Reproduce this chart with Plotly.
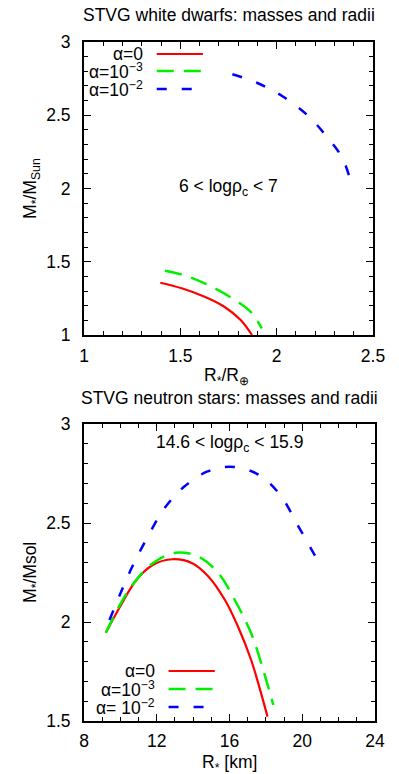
import plotly.graph_objects as go

# ---- white dwarfs (top panel) ----
wd_r_a0 = [1.396, 1.507, 1.626, 1.728, 1.813, 1.872]
wd_m_a0 = [1.357, 1.319, 1.261, 1.193, 1.102, 1.0]
wd_r_a3 = [1.42, 1.515, 1.626, 1.77, 1.864, 1.923]
wd_m_a3 = [1.439, 1.41, 1.353, 1.25, 1.159, 1.046]
wd_r_a2 = [1.77, 1.90, 2.03, 2.16, 2.25, 2.34, 2.39]
wd_m_a2 = [2.78, 2.72, 2.63, 2.50, 2.37, 2.21, 2.02]

# ---- neutron stars (bottom panel) ----
ns_r_a0 = [9.2, 9.98, 10.88, 11.78, 12.86, 13.95, 14.85, 15.75, 16.47, 17.19, 18.09]
ns_m_a0 = [1.946, 2.077, 2.212, 2.288, 2.317, 2.297, 2.229, 2.111, 1.976, 1.808, 1.522]
ns_r_a3 = [9.2, 10.52, 11.78, 13.04, 14.3, 15.39, 16.29, 17.19, 17.91, 18.41]
ns_m_a3 = [1.946, 2.17, 2.297, 2.35, 2.33, 2.246, 2.111, 1.943, 1.741, 1.581]
ns_r_a2 = [9.4, 10.61, 11.51, 12.42, 13.5, 14.76, 16.02, 17.46, 18.72, 19.8, 20.79]
ns_m_a2 = [2.01, 2.271, 2.431, 2.574, 2.683, 2.759, 2.784, 2.751, 2.65, 2.481, 2.32]

labels_top = ["α=0", "α=10<sup>−3</sup>", "α=10<sup>−2</sup>"]
labels_bot = ["α=0", "α=10<sup>−3</sup>", "α= 10<sup>−2</sup>"]
colors = ["#ff0000", "#00f000", "#0000ff"]
dashes = ["solid", "17px,10px", "10px,15px"]
widths = [2.2, 2.5, 2.5]

FONT = "Liberation Sans, Arial, sans-serif"
FS = 17.5

fig = go.Figure()
top = [(wd_r_a0, wd_m_a0), (wd_r_a3, wd_m_a3), (wd_r_a2, wd_m_a2)]
bot = [(ns_r_a0, ns_m_a0), (ns_r_a3, ns_m_a3), (ns_r_a2, ns_m_a2)]
for i, (x, y) in enumerate(top):
    fig.add_trace(go.Scatter(x=x, y=y, mode="lines", xaxis="x", yaxis="y",
                             line=dict(color=colors[i], dash=dashes[i], width=widths[i], shape="spline", smoothing=1.0),
                             showlegend=False))
for i, (x, y) in enumerate(bot):
    fig.add_trace(go.Scatter(x=x, y=y, mode="lines", xaxis="x2", yaxis="y2",
                             line=dict(color=colors[i], dash=dashes[i], width=widths[i], shape="spline", smoothing=1.0),
                             showlegend=False))

def ax(rng, dtick, mdtick, dom, anchor, standoff):
    return dict(range=rng, dtick=dtick, tick0=rng[0], domain=dom, anchor=anchor,
                showline=True, linecolor="black", linewidth=2, mirror="allticks",
                ticks="inside", ticklen=7, tickwidth=1, tickcolor="black",
                minor=dict(ticks="inside", dtick=mdtick, ticklen=4, tickwidth=1, tickcolor="black"),
                showgrid=False, zeroline=False, ticklabelstandoff=standoff,
                tickfont=dict(family=FONT, size=FS, color="black"))

FW, FH = 399, 774
L, R, T, B = 84, 19, 42, 53
H = FH - T - B
W = FW - L - R
def py(p):
    return (FH - B - p) / H
def px(p):
    return (p - L) / W

fig.update_layout(
    width=FW, height=FH,
    margin=dict(l=L, r=R, t=T, b=B),
    paper_bgcolor="white", plot_bgcolor="white",
    xaxis=ax([1, 2.5], 0.5, 0.1, [0, px(378)], "y", 4),
    yaxis=ax([1, 3], 0.5, 0.1, [py(335), 1], "x", 8),
    xaxis2=ax([8, 24], 4, 1, [px(84), px(380)], "y2", 3),
    yaxis2=ax([1.5, 3], 0.5, 0.1, [0, py(424)], "x2", 8),
    font=dict(family=FONT, size=FS, color="black"),
)

ann = []
def a(text, x, y, **kw):
    d = dict(text=text, x=x, y=y, xref="paper", yref="paper", showarrow=False,
             xanchor="center", yanchor="middle",
             font=dict(family=FONT, size=FS, color="black"))
    d.update(kw)
    ann.append(d)

a("STVG white dwarfs: masses and radii", px(231), py(15))
a("STVG neutron stars: masses and radii", px(232), py(398))
a("R<sub>*</sub>/R<sub>⊕</sub>", px(229), py(376))
a("R<sub>*</sub> [km]", px(232), py(763))
a("M<sub>*</sub>/M<sub>Sun</sub>", px(30), py(188), textangle=-90)
a("M<sub>*</sub>/Msol", px(30), py(572), textangle=-90)
a("6 &lt; logρ<sub>c</sub> &lt; 7", 1.75, 2.01, xref="x", yref="y")
a("14.6 &lt; logρ<sub>c</sub> &lt; 15.9", 16.0, 2.90, xref="x2", yref="y2")

shapes = []
rows_top = [54, 71, 89]
rows_bot = [671, 689, 707]
for i in range(3):
    a(labels_top[i], px(146), py(rows_top[i]), xanchor="right")
    a(labels_bot[i], px(158), py(rows_bot[i]), xanchor="right")
    shapes.append(dict(type="line", xref="paper", yref="paper", x0=px(158), x1=px(205),
                       y0=py(rows_top[i]), y1=py(rows_top[i]),
                       line=dict(color=colors[i], dash=dashes[i], width=widths[i])))
    shapes.append(dict(type="line", xref="paper", yref="paper", x0=px(170), x1=px(217),
                       y0=py(rows_bot[i]), y1=py(rows_bot[i]),
                       line=dict(color=colors[i], dash=dashes[i], width=widths[i])))

fig.update_layout(annotations=ann, shapes=shapes)
# remove the default 8px page margin so the figure sits at the window's top-left corner
fig.write_html("out.html", config={"displayModeBar": False},
               post_script="document.body.style.margin='0';")
